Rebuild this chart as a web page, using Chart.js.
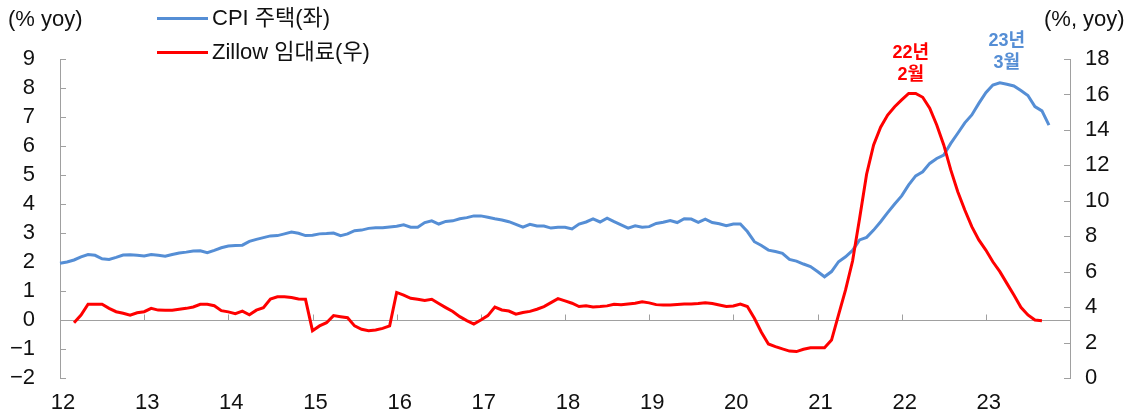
<!DOCTYPE html>
<html lang="ko">
<head>
<meta charset="UTF-8">
<title>CPI 주택 vs Zillow 임대료</title>
<script src="https://cdn.jsdelivr.net/npm/chart.js"></script>
<style>
  html, body { margin: 0; padding: 0; background: #fff; }
  #wrap { position: relative; width: 1126px; height: 412px; font-family: "Liberation Sans", "Noto Sans CJK KR", sans-serif; color: #111; }
  #wrap canvas { position: absolute; left: 0; top: 0; }
  .unit { position: absolute; top: 5px; font-size: 22px; line-height: 28px; white-space: nowrap; }
  .leg { position: absolute; left: 157px; font-size: 22px; line-height: 28px; white-space: nowrap; }
  .leg i { display: inline-block; width: 51px; height: 3px; vertical-align: middle; margin-right: 4px; position: relative; top: -1px; }
</style>
</head>
<body>
<div id="wrap">
  <canvas id="chart" width="1126" height="412"></canvas>
  <div class="unit" style="left:8px">(% yoy)</div>
  <div class="unit" style="left:1044px">(%, yoy)</div>
  <div class="leg" style="top:4px"><i style="background:#558ED5"></i>CPI 주택(좌)</div>
  <div class="leg" style="top:38px"><i style="background:#FF0000"></i>Zillow 임대료(우)</div>
</div>
<script>
// 연도 라벨 (x축)
const years = ['12', '13', '14', '15', '16', '17', '18', '19', '20', '21', '22', '23'];

// CPI 주택 (% yoy, 좌축) 2012.1 ~ 2023.10
const cpiShelter = [
  1.96, 2.00, 2.07, 2.18, 2.26, 2.23, 2.11, 2.09, 2.16, 2.24, 2.25, 2.23,
  2.21, 2.26, 2.23, 2.20, 2.26, 2.31, 2.34, 2.38, 2.39, 2.32, 2.40, 2.49,
  2.55, 2.57, 2.58, 2.71, 2.78, 2.84, 2.90, 2.91, 2.97, 3.03, 2.99, 2.91,
  2.92, 2.97, 2.98, 3.00, 2.91, 2.97, 3.08, 3.10, 3.16, 3.18, 3.18, 3.21,
  3.23, 3.28, 3.20, 3.20, 3.36, 3.42, 3.31, 3.40, 3.42, 3.49, 3.53, 3.59,
  3.59, 3.54, 3.49, 3.45, 3.39, 3.30, 3.20, 3.30, 3.24, 3.24, 3.17, 3.20,
  3.20, 3.14, 3.31, 3.38, 3.49, 3.38, 3.51, 3.39, 3.28, 3.17, 3.25, 3.20,
  3.22, 3.33, 3.37, 3.43, 3.36, 3.49, 3.48, 3.37, 3.48, 3.36, 3.32, 3.25,
  3.31, 3.31, 3.05, 2.70, 2.57, 2.41, 2.36, 2.30, 2.09, 2.03, 1.93, 1.84,
  1.67, 1.49, 1.67, 2.01, 2.18, 2.40, 2.76, 2.85, 3.10, 3.39, 3.70, 4.00,
  4.28, 4.66, 4.97, 5.11, 5.40, 5.57, 5.69, 6.09, 6.44, 6.80, 7.07, 7.47,
  7.84, 8.10, 8.18, 8.13, 8.07, 7.91, 7.74, 7.36, 7.21, 6.72
];

// Zillow 임대료 (% yoy, 우축) 2012.3 ~ 2023.9
const zillowRent = [
  null, null, 3.12, 3.55, 4.16, 4.16, 4.16, 3.93, 3.74, 3.65, 3.54, 3.68,
  3.74, 3.93, 3.83, 3.82, 3.82, 3.88, 3.93, 4.01, 4.16, 4.16, 4.08, 3.80,
  3.73, 3.63, 3.77, 3.57, 3.83, 3.97, 4.46, 4.58, 4.58, 4.54, 4.46, 4.44,
  2.67, 2.94, 3.12, 3.52, 3.46, 3.40, 2.94, 2.75, 2.67, 2.71, 2.80, 2.94,
  4.83, 4.68, 4.50, 4.44, 4.38, 4.44, 4.20, 3.97, 3.75, 3.46, 3.24, 3.04,
  3.27, 3.52, 4.00, 3.84, 3.78, 3.60, 3.70, 3.76, 3.88, 4.03, 4.25, 4.48,
  4.35, 4.22, 4.03, 4.08, 4.01, 4.03, 4.07, 4.16, 4.14, 4.18, 4.22, 4.30,
  4.24, 4.14, 4.12, 4.12, 4.15, 4.17, 4.18, 4.20, 4.25, 4.20, 4.12, 4.03,
  4.06, 4.17, 4.03, 3.37, 2.58, 1.92, 1.77, 1.64, 1.52, 1.49, 1.62, 1.71,
  1.70, 1.70, 2.14, 3.56, 4.97, 6.60, 9.00, 11.50, 13.15, 14.15, 14.84, 15.31,
  15.69, 16.06, 16.06, 15.84, 15.22, 14.28, 13.15, 11.74, 10.51, 9.48, 8.54, 7.79,
  7.22, 6.56, 6.00, 5.34, 4.68, 3.99, 3.56, 3.27, 3.23
];

// 피크 주석
const notes = [
  { lines: ['22년', '2월'], idx: 121, axis: 'y1', color: '#FF0000', dx: 2, dy: -40 },
  { lines: ['23년', '3월'], idx: 134, axis: 'y', color: '#558ED5', dx: 7, dy: -42 }
];

// 월별 카테고리 (마지막 칸은 축 끝 여백)
const months = [];
years.forEach(y => { for (let m = 1; m <= 12; m++) months.push(y + '.' + m); });
months.push('');

const FONT = '"Liberation Sans", "Noto Sans CJK KR", sans-serif';
const AXIS = '#a0a0a0';
const minus = v => String(v).replace('-', '\u2212');

// 0선, 안쪽 눈금, 주석
const decor = {
  id: 'decor',
  beforeDatasetsDraw(chart) {
    const { ctx, chartArea: a, scales } = chart;
    const y0 = Math.round(scales.y.getPixelForValue(0)) + 0.5;
    ctx.save();
    ctx.strokeStyle = AXIS;
    ctx.lineWidth = 1;
    ctx.beginPath();
    ctx.moveTo(a.left, y0); ctx.lineTo(a.right, y0);
    // x축 연도 눈금 (위쪽)
    for (let i = 12; i < months.length - 1; i += 12) {
      const px = Math.round(scales.x.getPixelForValue(i)) + 0.5;
      ctx.moveTo(px, y0); ctx.lineTo(px, y0 - 6);
    }
    // 좌축 눈금 (안쪽)
    scales.y.ticks.forEach(t => {
      const py = Math.round(scales.y.getPixelForValue(t.value)) + 0.5;
      ctx.moveTo(a.left, py); ctx.lineTo(a.left + 6, py);
    });
    // 우축 눈금 (안쪽)
    scales.y1.ticks.forEach(t => {
      const py = Math.round(scales.y1.getPixelForValue(t.value)) + 0.5;
      ctx.moveTo(a.right, py); ctx.lineTo(a.right - 6, py);
    });
    ctx.stroke();
    ctx.restore();
  },
  afterDatasetsDraw(chart) {
    const { ctx, scales } = chart;
    ctx.save();
    ctx.font = 'bold 18px ' + FONT;
    ctx.textAlign = 'center';
    ctx.textBaseline = 'middle';
    notes.forEach(n => {
      const ds = n.axis === 'y' ? cpiShelter : zillowRent;
      const x = scales.x.getPixelForValue(n.idx) + n.dx;
      const y = scales[n.axis].getPixelForValue(ds[n.idx]) + n.dy;
      ctx.fillStyle = n.color;
      ctx.fillText(n.lines[0], x, y);
      ctx.fillText(n.lines[1], x, y + 22);
    });
    ctx.restore();
  }
};

new Chart(document.getElementById('chart'), {
  type: 'line',
  data: {
    labels: months,
    datasets: [
      {
        label: 'Zillow 임대료(우)',
        data: zillowRent,
        yAxisID: 'y1',
        borderColor: '#FF0000',
        borderWidth: 3,
        pointRadius: 0,
        order: 0
      },
      {
        label: 'CPI 주택(좌)',
        data: cpiShelter,
        yAxisID: 'y',
        borderColor: '#558ED5',
        borderWidth: 3,
        pointRadius: 0,
        order: 1
      }
    ]
  },
  options: {
    responsive: false,
    animation: false,
    layout: { padding: { top: 59, left: 0, right: 0, bottom: 0 } },
    plugins: { legend: { display: false }, tooltip: { enabled: false } },
    scales: {
      x: {
        offset: false,
        grid: { display: false },
        border: { display: false },
        ticks: {
          autoSkip: false,
          maxRotation: 0,
          padding: 4,
          labelOffset: 3,
          color: '#111',
          font: { family: FONT, size: 22 },
          callback: (v, i) => (i % 12 === 0 && i < years.length * 12) ? years[i / 12] : null
        },
        afterFit: s => { s.height = 34; }
      },
      y: {
        position: 'left',
        min: -2, max: 9,
        ticks: { stepSize: 1, autoSkip: false, padding: 0, color: '#111', font: { family: FONT, size: 22 }, callback: minus },
        grid: { drawOnChartArea: false, drawTicks: true, tickLength: 25, tickColor: 'rgba(0,0,0,0)' },
        border: { display: true, color: AXIS, width: 1 },
        afterFit: s => { s.width = 60; }
      },
      y1: {
        position: 'right',
        min: 0, max: 18,
        ticks: { stepSize: 2, autoSkip: false, padding: 0, color: '#111', font: { family: FONT, size: 22 } },
        grid: { drawOnChartArea: false, drawTicks: true, tickLength: 15, tickColor: 'rgba(0,0,0,0)' },
        border: { display: true, color: AXIS, width: 1 },
        afterFit: s => { s.width = 56; }
      }
    }
  },
  plugins: [decor]
});
</script>
</body>
</html>
